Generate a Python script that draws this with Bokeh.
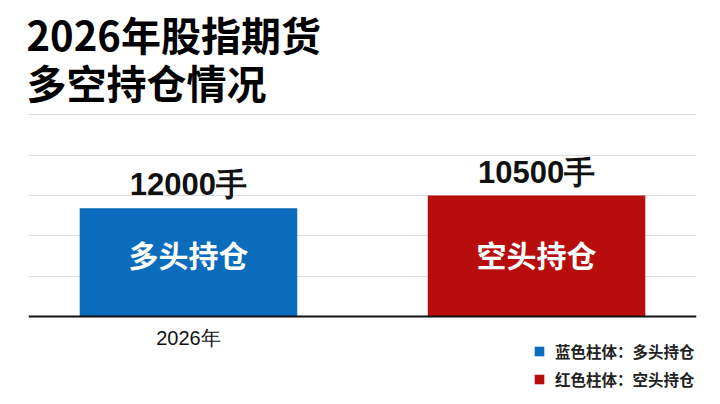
from bokeh.plotting import figure
from bokeh.models import (ColumnDataSource, LabelSet, Span, Legend, LegendItem,
                          FixedTicker, Range1d, FactorRange, Title)
from bokeh.core.properties import value
from bokeh.embed import file_html
from bokeh.resources import INLINE

# ---- data ----
title_lines = ["2026年股指期货", "多空持仓情况"]
sides = ["多头持仓", "空头持仓"]
bar_heights = [9400, 10500]          # bar heights as drawn (gridline step 3500)
value_labels = ["12000手", "10500手"]
colors = ["#0b6cbd", "#b80d0d"]
year = "2026年"
legend_labels = ["蓝色柱体：多头持仓", "红色柱体：空头持仓"]
grid_ticks = [3500, 7000, 10500, 14000, 17500]

CJK = "Noto Sans CJK SC"
NUM = "Liberation Sans"

# frame extends below the baseline so texts under it are not clipped
p = figure(x_range=FactorRange(factors=sides, factor_padding=0.088, range_padding=0),
           y_range=Range1d(-6948, 17630),
           width=712, height=396, output_backend="svg", toolbar_location=None,
           min_border_left=28, min_border_right=16, min_border_top=113,
           min_border_bottom=0, background_fill_color="white",
           border_fill_color="white", outline_line_color=None)

p.title = Title(text="\n".join(title_lines), text_font=CJK, text_font_size="40px",
                text_font_style="bold", text_color="#000000", align="left",
                text_line_height=0.83, standoff=4, offset=-2)

src = ColumnDataSource(dict(x=sides, top=bar_heights, color=colors,
                            vlabel=value_labels, inner=sides,
                            mid=[5400] * len(sides)))

bars = p.vbar(x="x", top="top", bottom=0, width=0.68, color="color", source=src,
              line_color=None)

p.xaxis.visible = False
p.yaxis.visible = False
p.xgrid.grid_line_color = None
p.ygrid.ticker = FixedTicker(ticks=grid_ticks)
p.ygrid.grid_line_color = "#dedede"
p.ygrid.grid_line_width = 1.2

p.add_layout(Span(location=0, dimension="width", line_color="#111111", line_width=2))

p.add_layout(LabelSet(x="x", y="top", text="vlabel", source=src, y_offset=13,
                      text_align="center", text_baseline="alphabetic",
                      text_font=value(NUM), text_font_size=value("31px"),
                      text_font_style="bold", text_color="#111111"))
p.add_layout(LabelSet(x="x", y="mid", text="inner", source=src,
                      text_align="center", text_baseline="middle",
                      text_font=value(CJK), text_font_size=value("30px"),
                      text_font_style="bold", text_color="white"))

ysrc = ColumnDataSource(dict(x=[sides[0]], y=[0], t=[year]))
p.add_layout(LabelSet(x="x", y="y", text="t", source=ysrc, y_offset=-29,
                      text_align="center", text_baseline="alphabetic",
                      text_font=value(NUM), text_font_size=value("20px"),
                      text_color="#111111"))

legend = Legend(items=[LegendItem(label=legend_labels[i], renderers=[bars], index=i)
                       for i in range(len(legend_labels))],
                location=(505, 6), orientation="vertical",
                label_text_font=CJK, label_text_font_size="15.5px",
                label_text_font_style="bold", label_text_color="#222222",
                glyph_width=12, glyph_height=12, label_height=20, label_standoff=10,
                spacing=6, padding=0, margin=0,
                border_line_alpha=0, background_fill_alpha=0)
p.add_layout(legend, "center")

open("out.html", "w").write(file_html(p, INLINE))
